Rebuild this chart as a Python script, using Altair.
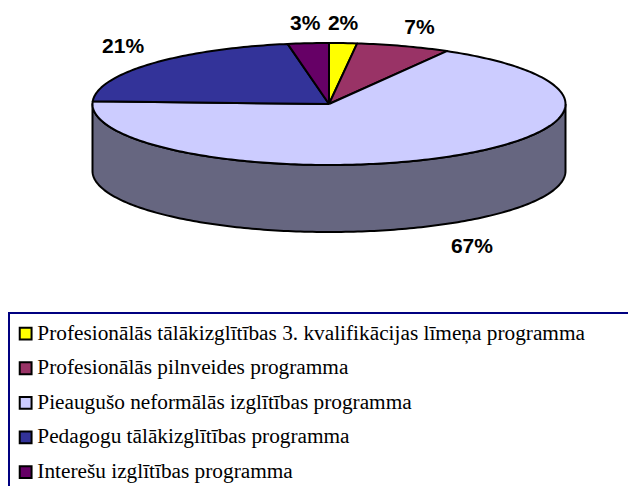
import math
import altair as alt
import pandas as pd

names = ["Profesionālās tālākizglītības 3. kvalifikācijas līmeņa programma",
         "Profesionālās pilnveides programma",
         "Pieaugušo neformālās izglītības programma",
         "Pedagogu tālākizglītības programma",
         "Interešu izglītības programma"]
shares = [1.9, 6.4, 67.4, 21.5, 2.8]
labels = ["2%", "7%", "67%", "21%", "3%"]
colors = ["#FFFF00", "#993366", "#CCCCFF", "#333399", "#660066"]
side_color = "#666680"
label_offsets = [(0, -19), (16, -18), (29, 90), (-28, -17), (-3, -19)]

W, H = 620, 478
CX, CY, RX, RY, DEPTH = 321, 96, 236.5, 61, 67
xscale = alt.Scale(domain=[-CX / RX, (W - CX) / RX], range=[0, W], nice=False, zero=False)
yscale = alt.Scale(domain=[(CY - H) / RY, CY / RY], range=[H, 0], nice=False, zero=False)
X = alt.X("x:Q", scale=xscale, axis=None)
Y = alt.Y("y:Q", scale=yscale, axis=None)

def pt(deg):
    a = math.radians(deg)
    return math.sin(a), math.cos(a)

rows, label_layers, cum = [], [], 0.0
for name, share, text, off in zip(names, shares, labels, label_offsets):
    a0, a1 = cum * 3.6, (cum + share) * 3.6
    n = max(2, int(a1 - a0))
    poly = [(0, 0)] + [pt(a0 + (a1 - a0) * k / n) for k in range(n + 1)] + [(0, 0)]
    rows += [{"name": name, "i": i, "x": p[0], "y": p[1]} for i, p in enumerate(poly)]
    mx, my = pt((a0 + a1) / 2)
    label_layers.append(
        alt.Chart(pd.DataFrame([{"x": mx, "y": my, "t": text}]))
        .mark_text(font="Liberation Sans", fontWeight="bold", fontSize=21, color="black",
                   dx=off[0], dy=off[1])
        .encode(x=X, y=Y, text="t:N"))
    cum += share

d = DEPTH / RY
side = []
for k in range(181):
    sx, sy = pt(90 + k)
    side.append({"i": k, "x": sx, "y": sy})
for k in range(181):
    sx, sy = pt(270 - k)
    side.append({"i": 181 + k, "x": sx, "y": sy - d})
side.append({**side[0], "i": 400})

side_layer = alt.Chart(pd.DataFrame(side)).mark_line(
    fill=side_color, stroke="black", strokeWidth=2, strokeJoin="round"
).encode(x=X, y=Y, order="i:Q")

slices = alt.Chart(pd.DataFrame(rows)).mark_line(
    stroke="black", strokeWidth=2, strokeJoin="round"
).encode(
    x=X, y=Y, order="i:Q",
    fill=alt.Fill("name:N",
        scale=alt.Scale(domain=names, range=colors),
        sort=names,
        legend=alt.Legend(
            title=None, orient="none", legendX=7, legendY=315,
            symbolType="square", symbolSize=140, symbolStrokeColor="black",
            symbolStrokeWidth=2, symbolOpacity=1,
            labelFont="Liberation Serif", labelFontSize=21.3, labelColor="black",
            labelLimit=640, rowPadding=12.6, labelOffset=1, padding=0,
        )),
)

frame = alt.Chart(pd.DataFrame([{"k": 1}])).mark_rect(
    fill="transparent", stroke="#000080", strokeWidth=2
).encode(x=alt.value(1), x2=alt.value(W + 20), y=alt.value(305), y2=alt.value(H + 20))

chart = alt.layer(frame, side_layer, slices, *label_layers).properties(
    width=W, height=H, padding=0,
    autosize=alt.AutoSizeParams(type="none"),
).configure_view(stroke=None)

chart.save("out.html", embed_options={"renderer": "svg", "actions": False})
